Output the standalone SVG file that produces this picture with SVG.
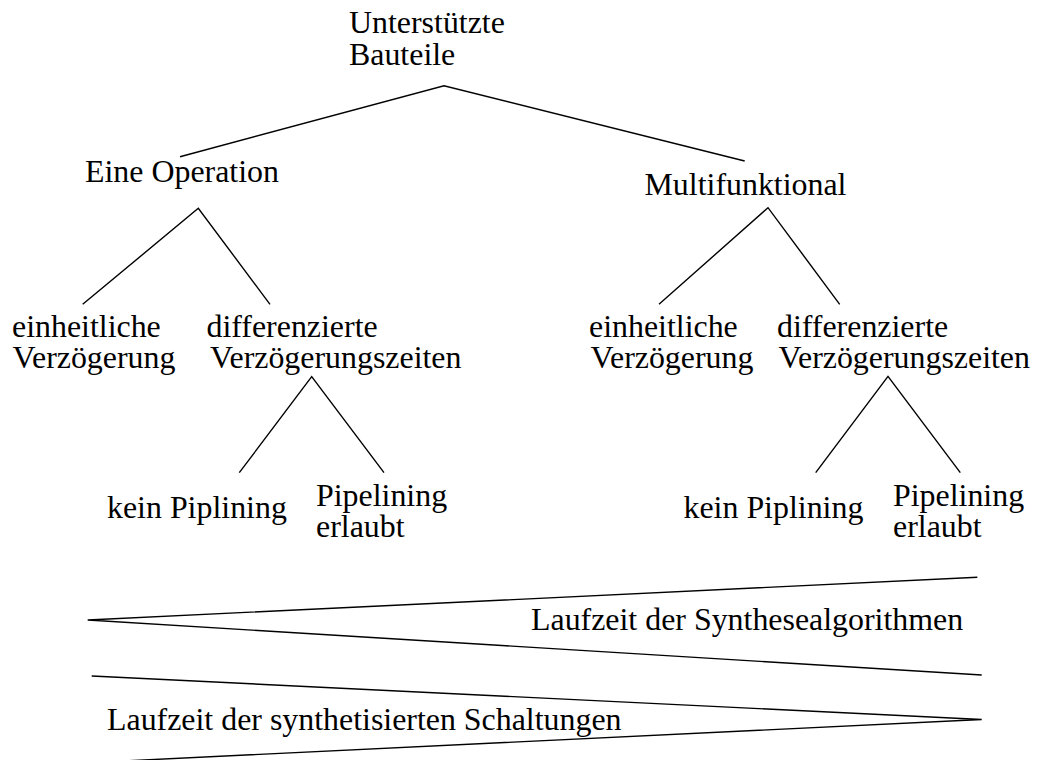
<svg xmlns="http://www.w3.org/2000/svg" width="1037" height="760" viewBox="0 0 1037 760">
  <style>
    text { font-family: "Liberation Serif", "Times New Roman", serif; font-size: 31.9px; fill: #000; }
    .edge { stroke: #000; stroke-width: 1.4; fill: none; stroke-linecap: butt; }
  </style>
  <rect width="1037" height="760" fill="#fff"/>

  <!-- tree connectors and the two runtime wedges -->
  <g id="connectors">
    <polyline class="edge" points="180,156.7 444,85.7 744.7,161"/>
    <polyline class="edge" points="82.7,304.3 198.3,208.3 270,304.3"/>
    <polyline class="edge" points="659,304.3 768,207.7 839.7,304.3"/>
    <polyline class="edge" points="239.3,472.7 311.7,376.7 384,472.7"/>
    <polyline class="edge" points="815.7,472.7 888,376.3 960.3,472.7"/>
    <polyline class="edge" points="977.3,577.3 87.7,620 981.7,675"/>
    <polyline class="edge" points="91.7,676 981.7,719.5 91.7,762.5"/>
  </g>

  <g id="root">
    <text x="349" y="33">Unterstützte</text>
    <text x="349" y="65">Bauteile</text>
  </g>
  <g id="eine-operation">
    <text x="85" y="181.5">Eine Operation</text>
  </g>
  <g id="multifunktional">
    <text x="644.5" y="195">Multifunktional</text>
  </g>

  <g id="op-einheitlich">
    <text x="12" y="337">einheitliche</text>
    <text x="12.5" y="368.3">Verzögerung</text>
  </g>
  <g id="op-differenziert">
    <text x="206.5" y="337">differenzierte</text>
    <text x="210" y="368.3">Verzögerungszeiten</text>
  </g>
  <g id="mf-einheitlich">
    <text x="589" y="337">einheitliche</text>
    <text x="590.5" y="368.3">Verzögerung</text>
  </g>
  <g id="mf-differenziert">
    <text x="777" y="337">differenzierte</text>
    <text x="778.5" y="368.3">Verzögerungszeiten</text>
  </g>

  <g id="op-kein-pipelining">
    <text x="107" y="518.3">kein Piplining</text>
  </g>
  <g id="op-pipelining">
    <text x="316" y="506">Pipelining</text>
    <text x="316" y="536.7">erlaubt</text>
  </g>
  <g id="mf-kein-pipelining">
    <text x="683.5" y="518.3">kein Piplining</text>
  </g>
  <g id="mf-pipelining">
    <text x="893" y="506">Pipelining</text>
    <text x="893" y="536.7">erlaubt</text>
  </g>

  <g id="laufzeit-algorithmen">
    <text x="531" y="630">Laufzeit der Synthesealgorithmen</text>
  </g>
  <g id="laufzeit-schaltungen">
    <text x="107" y="730">Laufzeit der synthetisierten Schaltungen</text>
  </g>
</svg>
